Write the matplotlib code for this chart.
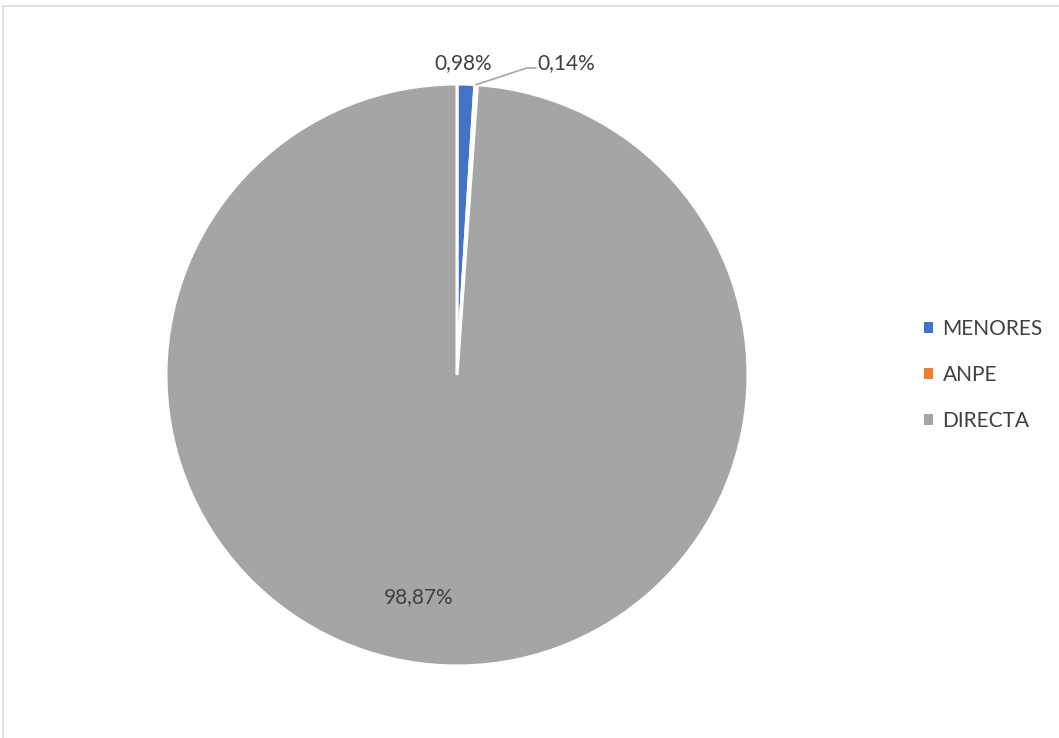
import matplotlib
matplotlib.use("Agg")
import matplotlib.pyplot as plt
from matplotlib.patches import Rectangle, Patch
import numpy as np

categories = ["MENORES", "ANPE", "DIRECTA"]
values = [0.98, 0.14, 98.87]
labels = ["0,98%", "0,14%", "98,87%"]
colors = ["#4472C4", "#ED7D31", "#A5A5A5"]

plt.rcParams['font.family'] = ['Lato', 'DejaVu Sans']

W, H = 1059, 738
fig = plt.figure(figsize=(W / 100, H / 100), dpi=100)
fig.patch.set_facecolor("white")

# chart border (partially outside the image)
fig.patches.append(Rectangle((3 / W, -0.05), 1.2, (H - 6) / H + 0.05, transform=fig.transFigure,
                             fill=False, edgecolor="#D9D9D9", linewidth=1.2))

cx, cy, r = 457, H - 375, 291
ax = fig.add_axes([(cx - r) / W, (cy - r) / H, 2 * r / W, 2 * r / H])
wedges, _ = ax.pie(values, colors=colors, startangle=90, counterclock=False, radius=1,
                   wedgeprops=dict(edgecolor="white", linewidth=2.2))
ax.set_xlim(-1, 1)
ax.set_ylim(-1, 1)
ax.set_aspect("equal")
ax.axis("off")

txtc = "#404040"
fs = 15
ax.text(0.02, 1.072, labels[0], ha="center", va="center", fontsize=fs, color=txtc, clip_on=False)
ax.text(0.375, 1.072, labels[1], ha="center", va="center", fontsize=fs, color=txtc, clip_on=False)
ax.text(-0.13, -0.763, labels[2], ha="center", va="center", fontsize=fs, color=txtc)

# leader line for ANPE
mid = np.deg2rad((wedges[1].theta1 + wedges[1].theta2) / 2)
ax.plot([np.cos(mid), 0.24, 0.27], [np.sin(mid), 1.055, 1.055], color="#A5A5A5",
        linewidth=1.2, clip_on=False)

handles = [Patch(facecolor=c, edgecolor="none") for c in colors]
leg = fig.legend(handles, categories, loc="center left", bbox_to_anchor=(905 / W, (H - 375) / H),
                 frameon=False, fontsize=15, handlelength=0.45, handleheight=0.45,
                 handletextpad=0.45, labelspacing=1.25, labelcolor=txtc)

fig.savefig("out.png", dpi=100, facecolor="white")
